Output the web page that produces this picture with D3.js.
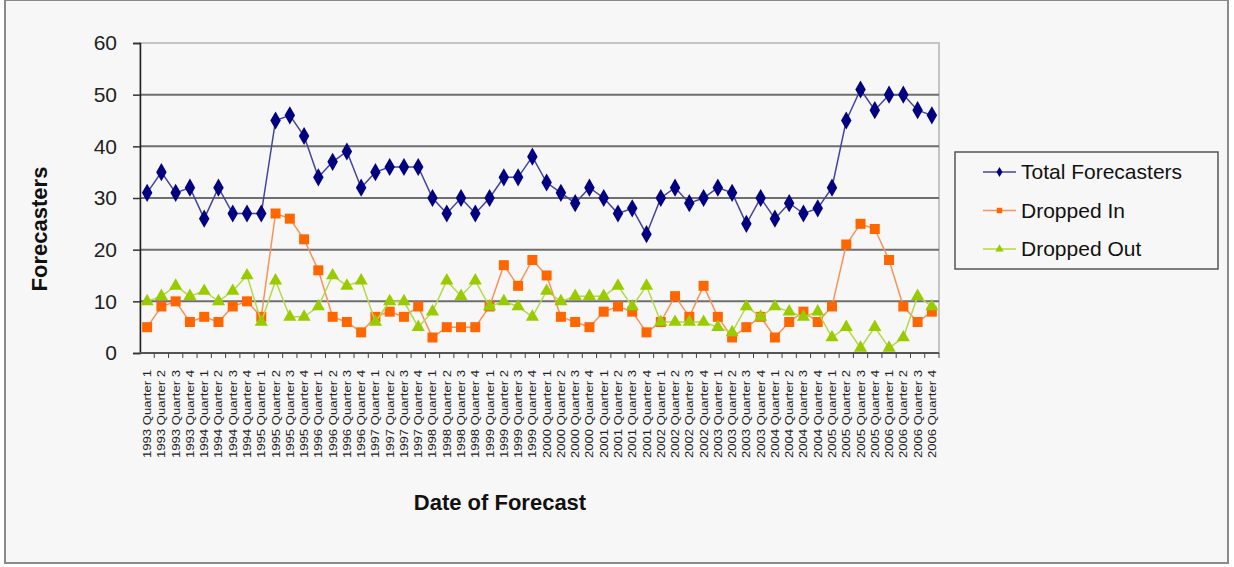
<!DOCTYPE html>
<html>
<head>
<meta charset="utf-8">
<script src="https://cdn.jsdelivr.net/npm/d3@7"></script>
<style>
  body { margin: 0; background: #fff; }
  svg { display: block; font-family: Arial, "Liberation Sans", sans-serif; }
</style>
</head>
<body>
<svg id="chart" width="1234" height="567"></svg>
<script>
// quarters, 1993 Q1 .. 2006 Q4
var years = [1993, 1994, 1995, 1996, 1997, 1998, 1999, 2000, 2001, 2002, 2003, 2004, 2005, 2006];
var quarters = ["Quarter 1", "Quarter 2", "Quarter 3", "Quarter 4"];
var categories = [];
years.forEach(function(y){ quarters.forEach(function(q){ categories.push(y + " " + q); }); });

var totalForecasters = [31,35,31,32, 26,32,27,27, 27,45,46,42, 34,37,39,32, 35,36,36,36,
                        30,27,30,27, 30,34,34,38, 33,31,29,32, 30,27,28,23, 30,32,29,30,
                        32,31,25,30, 26,29,27,28, 32,45,51,47, 50,50,47,46];
var droppedIn = [5,9,10,6, 7,6,9,10, 7,27,26,22, 16,7,6,4, 7,8,7,9,
                 3,5,5,5, 9,17,13,18, 15,7,6,5, 8,9,8,4, 6,11,7,13,
                 7,3,5,7, 3,6,8,6, 9,21,25,24, 18,9,6,8];
var droppedOut = [10,11,13,11, 12,10,12,15, 6,14,7,7, 9,15,13,14, 6,10,10,5,
                  8,14,11,14, 9,10,9,7, 12,10,11,11, 11,13,9,13, 6,6,6,6,
                  5,4,9,7, 9,8,7,8, 3,5,1,5, 1,3,11,9];
var yTicks = [0, 10, 20, 30, 40, 50, 60];

var series = [
  { name: "Total Forecasters", values: totalForecasters, line: "#44449c", fill: "#000080", shape: d3.symbolDiamond, size: 95 },
  { name: "Dropped In", values: droppedIn, line: "#f7935a", fill: "#ff6600", shape: d3.symbolSquare, size: 100 },
  { name: "Dropped Out", values: droppedOut, line: "#b5d84a", fill: "#99cc00", shape: d3.symbolTriangle, size: 75 }
];

var svg = d3.select("#chart");
var plotLeft = 140, plotRight = 939, plotTop = 43, plotBottom = 353;

// chart area frame
svg.append("rect").attr("x", 5).attr("y", 0).attr("width", 1223).attr("height", 563)
  .attr("fill", "#f7f7f7").attr("stroke", "#8a8a8a").attr("stroke-width", 2);

var x = d3.scaleBand().domain(categories).range([plotLeft, plotRight]);
var y = d3.scaleLinear().domain([0, 60]).range([plotBottom, plotTop]);

// plot area border
svg.append("rect").attr("x", plotLeft).attr("y", plotTop).attr("width", plotRight - plotLeft).attr("height", plotBottom - plotTop)
  .attr("fill", "none").attr("stroke", "#c4c4c4").attr("stroke-width", 2);

// gridlines
svg.append("g").selectAll("line").data(yTicks.filter(function(t){ return t > 0 && t < 60; }))
  .enter().append("line")
  .attr("x1", plotLeft).attr("x2", plotRight)
  .attr("y1", function(d){ return y(d); }).attr("y2", function(d){ return y(d); })
  .attr("stroke", "#6e6e6e").attr("stroke-width", 2);

// y axis
var yAxis = svg.append("g").attr("transform", "translate(" + plotLeft + ",0)")
  .call(d3.axisLeft(y).tickValues(yTicks).tickSize(7).tickPadding(16));
yAxis.select(".domain").attr("stroke", "#222").attr("stroke-width", 1.5);
yAxis.selectAll(".tick line").attr("stroke", "#333").attr("stroke-width", 1.5);
yAxis.selectAll("text").attr("font-size", 21).attr("fill", "#222").attr("font-family", "Arial, 'Liberation Sans', sans-serif");

// x axis: ticks sit between categories
var xAxis = svg.append("g").attr("transform", "translate(0," + plotBottom + ")");
xAxis.append("line").attr("x1", plotLeft).attr("x2", plotRight).attr("y1", 0).attr("y2", 0)
  .attr("stroke", "#555").attr("stroke-width", 2);
xAxis.selectAll(".tk").data(categories).enter().append("line").attr("class", "tk")
  .attr("x1", function(d){ return x(d) + x.bandwidth(); })
  .attr("x2", function(d){ return x(d) + x.bandwidth(); })
  .attr("y1", 0).attr("y2", 5).attr("stroke", "#444").attr("stroke-width", 1);
xAxis.selectAll(".lbl").data(categories).enter().append("text").attr("class", "lbl")
  .attr("transform", function(d){ return "translate(" + (x(d) + x.bandwidth() / 2 + 4) + ",17) rotate(-90)"; })
  .attr("text-anchor", "end")
  .attr("font-size", 11)
  .attr("fill", "#222")
  .attr("textLength", 88).attr("lengthAdjust", "spacingAndGlyphs")
  .text(function(d){ return d; });

// axis titles
svg.append("text").attr("x", 500).attr("y", 510).attr("text-anchor", "middle")
  .attr("font-size", 22).attr("font-weight", "bold").attr("fill", "#111").text("Date of Forecast");
svg.append("text").attr("transform", "translate(47,229) rotate(-90)").attr("text-anchor", "middle")
  .attr("font-size", 22).attr("font-weight", "bold").attr("fill", "#111").text("Forecasters");

// series
var line = d3.line()
  .x(function(d, i){ return x(categories[i]) + x.bandwidth() / 2; })
  .y(function(d){ return y(d); });

series.forEach(function(s){
  var g = svg.append("g");
  g.append("path").datum(s.values).attr("d", line)
    .attr("fill", "none").attr("stroke", s.line).attr("stroke-width", 1.5);
  g.selectAll("path.m").data(s.values).enter().append("path").attr("class", "m")
    .attr("transform", function(d, i){ return "translate(" + (x(categories[i]) + x.bandwidth() / 2) + "," + y(d) + ")"; })
    .attr("d", d3.symbol().type(s.shape).size(s.size))
    .attr("fill", s.fill);
});

// legend
var legend = svg.append("g");
legend.append("rect").attr("x", 955).attr("y", 152).attr("width", 263).attr("height", 117)
  .attr("fill", "#f7f7f7").attr("stroke", "#555").attr("stroke-width", 1.5);
var rows = legend.selectAll(".row").data(series).enter().append("g")
  .attr("transform", function(d, i){ return "translate(0," + (172 + i * 38.5) + ")"; });
rows.append("line").attr("x1", 983).attr("x2", 1016).attr("y1", 0).attr("y2", 0)
  .attr("stroke", function(d){ return d.line; }).attr("stroke-width", 1.5);
rows.append("path").attr("transform", "translate(999.5,0)")
  .attr("d", function(d){ return d3.symbol().type(d.shape).size(30)(); })
  .attr("fill", function(d){ return d.fill; });
rows.append("text").attr("x", 1021).attr("y", 7).attr("font-size", 21).attr("fill", "#111")
  .text(function(d){ return d.name; });
</script>
</body>
</html>
